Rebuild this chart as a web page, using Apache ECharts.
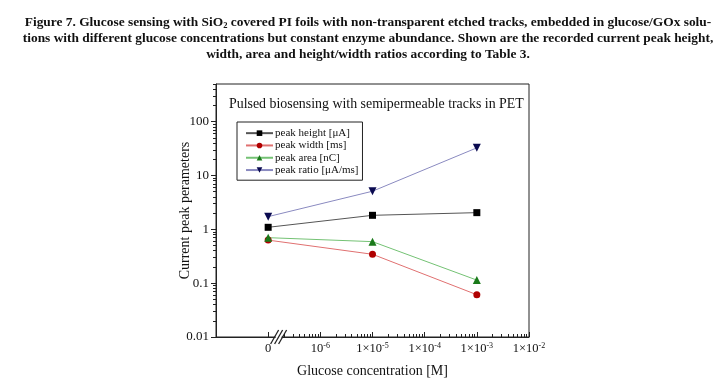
<!DOCTYPE html>
<html>
<head>
<meta charset="utf-8">
<script src="https://cdn.jsdelivr.net/npm/echarts@6/dist/echarts.min.js"></script>
<style>html,body{margin:0;padding:0;background:#fff}#c{width:720px;height:383px}</style>
</head>
<body>
<div id="c"></div>
<script>
// Glucose concentrations [M]; "0" is drawn at 1e-7 on the broken log axis
const concLabels = ['0', '1×10⁻⁵', '1×10⁻³'];
const concX = [1e-7, 1e-5, 1e-3];
const peakHeight = [1.09, 1.82, 2.04];   // µA
const peakWidth = [0.63, 0.344, 0.061];  // ms
const peakArea = [0.70, 0.59, 0.114];    // nC
const peakRatio = [1.72, 5.1, 32.6];     // µA/ms
const seriesNames = ['peak height [μA]', 'peak width [ms]', 'peak area [nC]', 'peak ratio [μA/ms]'];
const xMajorTicks = [1e-7, 1e-6, 1e-5, 1e-4, 1e-3, 1e-2];
const xTickLabels = ['0', '10{sup|-6}', '1×10{sup|-5}', '1×10{sup|-4}', '1×10{sup|-3}', '1×10{sup|-2}'];
const yTickLabels = ['0.01', '0.1', '1', '10', '100'];
const yMajorTicks = [0.01, 0.1, 1, 10, 100];

const FONT = 'Liberation Serif';
const xMinor = [];
for (let e = -7; e <= -3; e++) for (let k = 2; k <= 9; k++) xMinor.push(k * Math.pow(10, e));
const yMinor = [];
for (let e = -2; e <= 2; e++) for (let k = 2; k <= 9; k++) { const v = k * Math.pow(10, e); if (v <= 500) yMinor.push(v); }

const chart = echarts.init(document.getElementById('c'), null, {renderer: 'canvas'});
const mk = (i, vals) => concX.map((x, j) => [x, vals[j]]);
const lineColors = ['#555555', '#e07070', '#74c274', '#8a8ac0'];
const symColors = ['#000000', '#b00000', '#1a7a1a', '#0a0a50'];
const symbols = ['rect', 'circle', 'triangle', 'triangle'];
const symSizes = [7, 7, 8, 8];
const rot = [0, 0, 0, 180];
const allVals = [peakHeight, peakWidth, peakArea, peakRatio];

const option = {
  animation: false,
  title: [{
    left: 363, top: 10, textAlign: 'center',
    text: '{b|Figure 7. Glucose sensing with SiO}{s|2}{b| covered PI foils with non-transparent etched tracks, embedded in glucose/GOx solu-}\n' +
          '{b|tions with different glucose concentrations but constant enzyme abundance. Shown are the recorded current peak height,}\n' +
          '{b|width, area and height/width ratios according to Table 3.}',
    textStyle: {
      align: 'center',
      rich: {
        b: {fontFamily: FONT, fontWeight: 'bold', fontSize: 13.4, color: '#111', lineHeight: 16},
        s: {fontFamily: FONT, fontWeight: 'bold', fontSize: 8.5, color: '#111', lineHeight: 16, padding: [6, 0, 0, 0]}
      }
    }
  }, {
    left: 224, top: 92,
    text: 'Pulsed biosensing with semipermeable tracks in PET',
    textStyle: {fontFamily: FONT, fontWeight: 'normal', fontSize: 13.9, color: '#111'}
  }],
  grid: {left: 216, right: 191, top: 84, bottom: 46, show: true, borderColor: '#222', borderWidth: 1, containLabel: false},
  legend: {
    orient: 'vertical', left: 237, top: 122,
    borderColor: '#222', borderWidth: 1, padding: [5, 4, 4, 8],
    itemWidth: 27, itemHeight: 7, itemGap: 0,
    textStyle: {fontFamily: FONT, fontSize: 11, color: '#111', lineHeight: 12.3, padding: [0, 0, 0, -3]},
    data: seriesNames
  },
  xAxis: [{
    type: 'log', min: 1e-8, max: 1e-2, logBase: 10, splitNumber: 6,
    name: 'Glucose concentration [M]', nameLocation: 'middle', nameGap: 27,
    nameTextStyle: {fontFamily: FONT, fontSize: 14, color: '#111'},
    axisLine: {show: true, lineStyle: {color: '#222', width: 1}},
    axisTick: {show: true, inside: true, length: 5, customValues: xMajorTicks, lineStyle: {color: '#222'}},
    splitLine: {show: false},
    axisLabel: {
      customValues: xMajorTicks,
      margin: 5, fontFamily: FONT, fontSize: 12.5, color: '#111',
      formatter: function (v) {
        const idx = xMajorTicks.findIndex(t => Math.abs(Math.log10(t) - Math.log10(v)) < 1e-6);
        return idx >= 0 ? xTickLabels[idx] : '';
      },
      rich: {sup: {fontFamily: FONT, fontSize: 8, color: '#111', padding: [0, 0, 6, 0]}}
    }
  }, {
    type: 'log', min: 1e-8, max: 1e-2, logBase: 10, position: 'bottom', splitNumber: 6,
    axisLine: {show: false},
    axisTick: {show: true, inside: true, length: 3, customValues: xMinor, lineStyle: {color: '#222'}},
    axisLabel: {show: false}, splitLine: {show: false}
  }],
  yAxis: [{
    type: 'log', min: 0.01, max: 500, logBase: 10, splitNumber: 5,
    name: 'Current peak perameters', nameLocation: 'middle', nameGap: 24, nameMoveOverlap: false,
    nameTextStyle: {fontFamily: FONT, fontSize: 14, color: '#111'},
    axisLine: {show: true, lineStyle: {color: '#222', width: 1}},
    axisTick: {show: true, inside: false, length: 5, customValues: yMajorTicks, lineStyle: {color: '#222'}},
    splitLine: {show: false},
    axisLabel: {
      customValues: yMajorTicks,
      margin: 7, fontFamily: FONT, fontSize: 13, color: '#111',
      formatter: function (v) {
        const idx = yMajorTicks.findIndex(t => Math.abs(Math.log10(t) - Math.log10(v)) < 1e-6);
        return idx >= 0 ? yTickLabels[idx] : '';
      }
    }
  }, {
    type: 'log', min: 0.01, max: 500, logBase: 10, position: 'left',
    axisLine: {show: false},
    axisTick: {show: true, inside: false, length: 3, customValues: yMinor, lineStyle: {color: '#222'}},
    axisLabel: {show: false}, splitLine: {show: false}
  }],
  series: seriesNames.map((n, i) => ({
    name: n, type: 'line', xAxisIndex: 0, yAxisIndex: 0,
    data: mk(i, allVals[i]),
    symbol: symbols[i], symbolSize: symSizes[i], symbolRotate: rot[i],
    showSymbol: true,
    lineStyle: {color: lineColors[i], width: 1},
    itemStyle: {color: symColors[i]},
    z: 3
  }))
};
chart.setOption(option);

// axis-break marker on the x-axis, placed through the axis scale
const bx = chart.convertToPixel({xAxisIndex: 0}, Math.pow(10, -6.8));
const by = chart.convertToPixel({yAxisIndex: 0}, 0.01);
const br = [];
br.push({type: 'rect', shape: {x: bx - 3, y: by - 2, width: 6, height: 4}, style: {fill: '#fff'}, z: 100});
[-4, 0, 4].forEach(d => br.push({
  type: 'line', shape: {x1: bx + d - 4, y1: by + 7, x2: bx + d + 4, y2: by - 7},
  style: {stroke: '#222', lineWidth: 1.3}, z: 101
}));
chart.setOption({graphic: br});
</script>
</body>
</html>
